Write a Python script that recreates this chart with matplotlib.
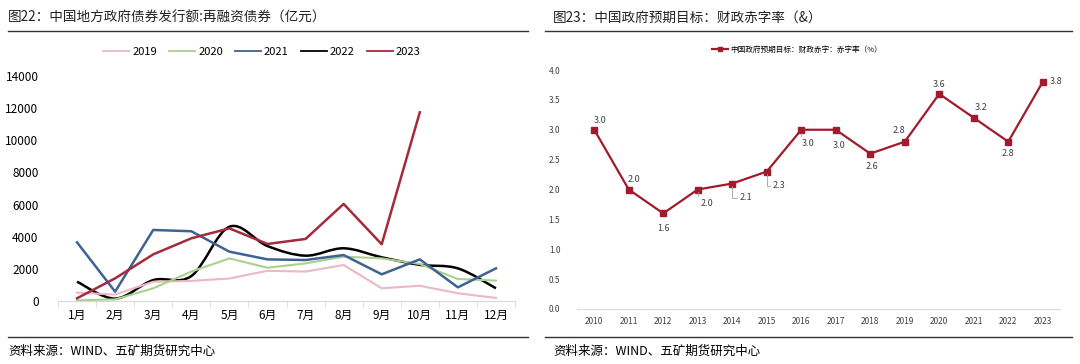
import numpy as np
import matplotlib
matplotlib.use('Agg')
import matplotlib.pyplot as plt
from matplotlib.path import Path
from matplotlib.patches import PathPatch
from matplotlib.lines import Line2D

plt.rcParams['font.family'] = ['Noto Sans CJK SC', 'DejaVu Sans']

# 左图数据：再融资债券（亿元）
months = ['1月', '2月', '3月', '4月', '5月', '6月', '7月', '8月', '9月', '10月', '11月', '12月']
v2019 = [520, 400, 1200, 1250, 1400, 1880, 1830, 2240, 790, 950, 480, 190]
v2020 = [40, 100, 790, 1830, 2650, 2070, 2340, 2760, 2650, 2300, 1370, 1270]
v2021 = [3650, 580, 4420, 4340, 3070, 2590, 2550, 2860, 1660, 2590, 850, 2030]
v2022 = [1200, 150, 1300, 1550, 4620, 3420, 2820, 3280, 2720, 2250, 2030, 790]
v2023 = [170, 1410, 2900, 3900, 4520, 3550, 3860, 6040, 3530, 11740]

# 右图数据：财政赤字率（%）
years = ['2010', '2011', '2012', '2013', '2014', '2015', '2016',
         '2017', '2018', '2019', '2020', '2021', '2022', '2023']
deficit = [3.0, 2.0, 1.6, 2.0, 2.1, 2.3, 3.0, 3.0, 2.6, 2.8, 3.6, 3.2, 2.8, 3.8]

fig = plt.figure(figsize=(10.8, 3.64), dpi=100)

# 标题与分隔线
fig.text(8 / 1080, 1 - 18 / 364, '图22：中国地方政府债券发行额:再融资债券（亿元）',
         fontsize=9.8, va='center', ha='left', color='#222222')
fig.text(553 / 1080, 1 - 18 / 364, '图23：中国政府预期目标：财政赤字率（&）',
         fontsize=9.8, va='center', ha='left', color='#222222')
for x0, x1 in [(8, 528), (545, 1072)]:
    fig.add_artist(Line2D([x0 / 1080, x1 / 1080], [1 - 31 / 364] * 2, color='#333333', lw=1.0))
    fig.add_artist(Line2D([x0 / 1080, x1 / 1080], [1 - 337 / 364] * 2, color='#333333', lw=1.0))
fig.text(8 / 1080, 1 - 351 / 364, '资料来源：WIND、五矿期货研究中心', fontsize=9, va='center', ha='left')
fig.text(553 / 1080, 1 - 351 / 364, '资料来源：WIND、五矿期货研究中心', fontsize=9, va='center', ha='left')

# 左图
ax1 = fig.add_axes([58 / 1080, 1 - 301 / 364, (515 - 58) / 1080, (301 - 76) / 364])
x = np.arange(len(months))
ax1.plot(x, v2019, color='#EBB8C3', lw=1.5, label='2019')
ax1.plot(x, v2020, color='#A9D18E', lw=1.5, label='2020')
ax1.plot(x, v2021, color='#3E6392', lw=1.8, label='2021')

# 2022 平滑曲线（贝塞尔）
pts = np.column_stack([x, v2022]).astype(float)
verts = [tuple(pts[0])]
codes = [Path.MOVETO]
n = len(pts)
for i in range(n - 1):
    p0 = pts[i - 1] if i > 0 else pts[i]
    p1 = pts[i]
    p2 = pts[i + 1]
    p3 = pts[i + 2] if i + 2 < n else pts[i + 1]
    c1 = p1 + (p2 - p0) / 6
    c2 = p2 - (p3 - p1) / 6
    verts += [tuple(c1), tuple(c2), tuple(p2)]
    codes += [Path.CURVE4] * 3
ax1.add_patch(PathPatch(Path(verts, codes), facecolor='none', edgecolor='black', lw=1.8))
ax1.plot([], [], color='black', lw=1.8, label='2022')

ax1.plot(np.arange(len(v2023)), v2023, color='#A52A3C', lw=1.8, label='2023')

ax1.set_xlim(-0.5, 11.5)
ax1.set_ylim(0, 14000)
ax1.set_yticks(range(0, 14001, 2000))
ax1.set_xticks(x)
ax1.set_xticklabels(months)
ax1.set_xticks(np.arange(-0.5, 12, 1), minor=True)
ax1.tick_params(axis='x', which='major', length=0, labelsize=8.5, pad=6)
ax1.tick_params(axis='x', which='minor', length=4, color='#D9D9D9', direction='out')
ax1.tick_params(axis='y', length=0, labelsize=8.5, pad=14)
for s in ['top', 'right', 'left']:
    ax1.spines[s].set_visible(False)
ax1.spines['bottom'].set_color('#D9D9D9')
leg1 = ax1.legend(loc='center', bbox_to_anchor=(262 / 1080, 1 - 52 / 364), bbox_transform=fig.transFigure,
                  ncol=5, frameon=False, fontsize=8, handlelength=2.3, columnspacing=1.1,
                  handletextpad=0.3)
for h in leg1.get_lines():
    h.set_linewidth(1.3)

# 右图
ax2 = fig.add_axes([577 / 1080, 1 - 309 / 364, (1060 - 577) / 1080, (309 - 70) / 364])
xr = np.arange(len(years))
ax2.plot(xr, deficit, color='#A01C2C', lw=1.6, marker='s', markersize=4,
         label='中国政府预期目标：财政赤字：赤字率（%）')
ax2.set_xlim(-0.5, 13.5)
ax2.set_ylim(0, 4.0)
ax2.set_yticks(np.arange(0, 4.01, 0.5))
ax2.yaxis.set_major_formatter(matplotlib.ticker.FormatStrFormatter('%.1f'))
ax2.set_xticks(xr)
ax2.set_xticklabels(years)
ax2.tick_params(axis='both', length=0, labelsize=6, colors='#404040')
ax2.tick_params(axis='y', pad=12)
ax2.tick_params(axis='x', pad=6)
for s in ['top', 'right', 'left']:
    ax2.spines[s].set_visible(False)
ax2.spines['bottom'].set_color('#D9D9D9')

# 数据标签偏移（像素）及是否带引线
offsets = [(6, 9, False), (5, 10, False), (0, -15, False), (9, -14, True), (14, -14, True),
           (12, -14, True), (7, -14, True), (3, -16, False), (2, -13, False), (-6, 11, False),
           (0, 9, False), (7, 10, False), (0, -12, False), (13, 0, False)]
for i, (dx, dy, lead) in enumerate(offsets):
    kw = {}
    if lead:
        kw['arrowprops'] = dict(arrowstyle='-', color='#A0A0A0', lw=0.6,
                                connectionstyle='angle,angleA=0,angleB=90,rad=0',
                                shrinkA=0, shrinkB=2)
    ax2.annotate(f'{deficit[i]:.1f}', (xr[i], deficit[i]), xytext=(dx, dy),
                 textcoords='offset pixels', ha='center', va='center', fontsize=6.5,
                 color='#404040', **kw)

leg2 = ax2.legend(loc='center', bbox_to_anchor=(797 / 1080, 1 - 50 / 364), bbox_transform=fig.transFigure,
                  frameon=False, fontsize=5.5, handlelength=2.0, handletextpad=0.3)
for h in leg2.get_lines():
    h.set_markersize(3.5)

fig.savefig('out.png', dpi=100)
